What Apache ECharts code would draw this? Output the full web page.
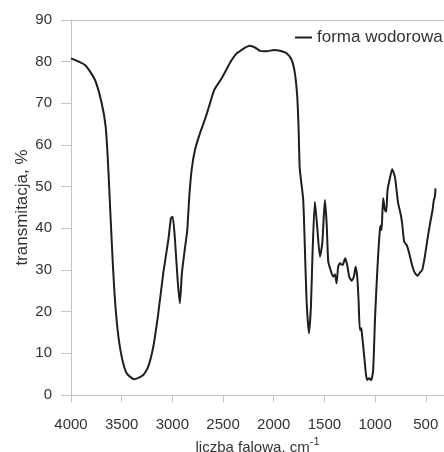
<!DOCTYPE html>
<html>
<head>
<meta charset="utf-8">
<script src="https://cdn.jsdelivr.net/npm/echarts@6/dist/echarts.min.js"></script>
<style>
  html, body { margin: 0; padding: 0; background: #fff; }
  #chart { width: 444px; height: 452px; }
</style>
</head>
<body>
<div id="chart"></div>
<script>
// IR spectrum, wavenumbers (cm-1)
const wavenumber = [
  4000, 3862, 3763, 3697, 3658, 3638, 3622, 3599, 3573, 3540, 3500, 3451, 3376, 3287, 3238,
  3188, 3139, 3090, 3040, 3014, 2997, 2974, 2948, 2926, 2906, 2876, 2853, 2833, 2810, 2777,
  2728, 2669, 2629, 2587, 2514, 2465, 2415, 2366, 2340, 2294, 2235, 2185, 2136, 2070, 1998,
  1939, 1873, 1823, 1791, 1768, 1754, 1745, 1735, 1709, 1692, 1676, 1653, 1633, 1616, 1594,
  1571, 1544, 1521, 1495, 1478, 1462, 1439, 1413, 1396, 1380, 1364, 1347, 1321, 1295, 1275,
  1255, 1232, 1209, 1192, 1176, 1163, 1150, 1137, 1130, 1110, 1091, 1078, 1058, 1038, 1019,
  1000, 976, 953, 943, 936, 920, 903, 890, 877, 854, 831, 805, 788, 772, 746,
  733, 713, 689, 667, 640, 614, 581, 558, 535, 509, 482, 460, 433, 420, 410, 404
];
const transmitacja = [
  80.8, 79.2, 75.6, 70.0, 64.4, 57.2, 49.2, 37.2, 25.2, 15.6, 9.2, 5.2, 3.8, 4.8, 6.8,
  11.6, 19.6, 29.2, 37.2, 42.4, 42.8, 37.2, 27.6, 22.0, 29.2, 35.2, 39.6, 47.6, 54.0, 58.8,
  62.8, 66.8, 70.0, 73.2, 76.0, 78.2, 80.4, 82.0, 82.4, 83.2, 83.8, 83.4, 82.6, 82.5, 82.8,
  82.6, 82.0, 80.4, 77.2, 71.6, 63.6, 55.0, 52.4, 46.8, 34.8, 22.8, 14.8, 21.2, 34.8, 46.4,
  40.4, 33.2, 36.4, 46.8, 41.2, 32.0, 30.0, 28.4, 29.0, 26.8, 30.8, 31.6, 31.2, 32.8, 31.2,
  28.4, 27.4, 28.4, 30.8, 28.4, 22.8, 15.6, 16.0, 14.8, 10.0, 5.2, 3.6, 4.0, 3.6, 6.0,
  18.8, 30.8, 39.6, 40.6, 39.6, 47.2, 44.4, 44.0, 49.2, 52.0, 54.2, 52.4, 49.2, 46.0, 43.2,
  41.2, 36.8, 36.0, 34.4, 31.6, 29.6, 28.6, 29.4, 30.0, 33.2, 37.6, 40.8, 44.4, 46.8, 47.6, 49.6
];
const xTicks = [4000, 3500, 3000, 2500, 2000, 1500, 1000, 500];
const seriesName = 'forma wodorowa';

const font = '"Liberation Sans", Arial, sans-serif';
const axisGray = '#c4c4c4';
const textColor = '#333';

const chart = echarts.init(document.getElementById('chart'), null, { renderer: 'canvas' });

const option = {
  animation: false,
  textStyle: { fontFamily: font },
  grid: { left: 71, right: 0, top: 20, bottom: 57, containLabel: false, outerBoundsMode: 'none' },
  legend: {
    left: 290,
    top: 24,
    icon: 'rect',
    itemWidth: 17,
    itemHeight: 2,
    itemGap: 0,
    textStyle: { fontSize: 17, color: textColor, fontFamily: font },
    data: [seriesName]
  },
  xAxis: [
    {
      type: 'value',
      inverse: true,
      min: 320,
      max: 4000,
      name: '{a|liczba falowa. cm}{s|-1}',
      nameLocation: 'middle',
      nameGap: 33,
      nameTextStyle: {
        rich: {
          a: { fontSize: 15, color: textColor, fontFamily: font, lineHeight: 18, verticalAlign: 'bottom' },
          s: { fontSize: 11, color: textColor, fontFamily: font, lineHeight: 18, verticalAlign: 'top' }
        }
      },
      axisLine: { show: true, lineStyle: { color: axisGray, width: 1 } },
      axisTick: { show: true, length: 7, customValues: xTicks, lineStyle: { color: axisGray } },
      axisLabel: {
        customValues: xTicks,
        fontSize: 15,
        color: textColor,
        margin: 22,
        fontFamily: font,
        formatter: v => String(v)
      },
      splitLine: { show: false }
    },
    {
      type: 'value',
      position: 'top',
      inverse: true,
      min: 320,
      max: 4000,
      axisLine: { show: true, lineStyle: { color: axisGray, width: 1 } },
      axisTick: { show: false },
      axisLabel: { show: false },
      splitLine: { show: false }
    }
  ],
  yAxis: {
    type: 'value',
    min: 0,
    max: 90,
    interval: 10,
    name: 'transmitacja, %',
    nameLocation: 'middle',
    nameGap: 40,
    nameMoveOverlap: false,
    nameTextStyle: { fontSize: 17, color: textColor, fontFamily: font },
    axisLine: { show: true, lineStyle: { color: axisGray, width: 1 } },
    axisTick: { show: true, length: 10, lineStyle: { color: axisGray } },
    axisLabel: { fontSize: 15, color: textColor, margin: 19, fontFamily: font },
    splitLine: { show: false }
  },
  series: [
    {
      name: seriesName,
      type: 'line',
      xAxisIndex: 0,
      symbol: 'none',
      smooth: 0.2,
      lineStyle: { color: '#1e1e1e', width: 2 },
      itemStyle: { color: '#1e1e1e' },
      data: wavenumber.map((w, i) => [w, transmitacja[i]])
    }
  ]
};

chart.setOption(option);
</script>
</body>
</html>
